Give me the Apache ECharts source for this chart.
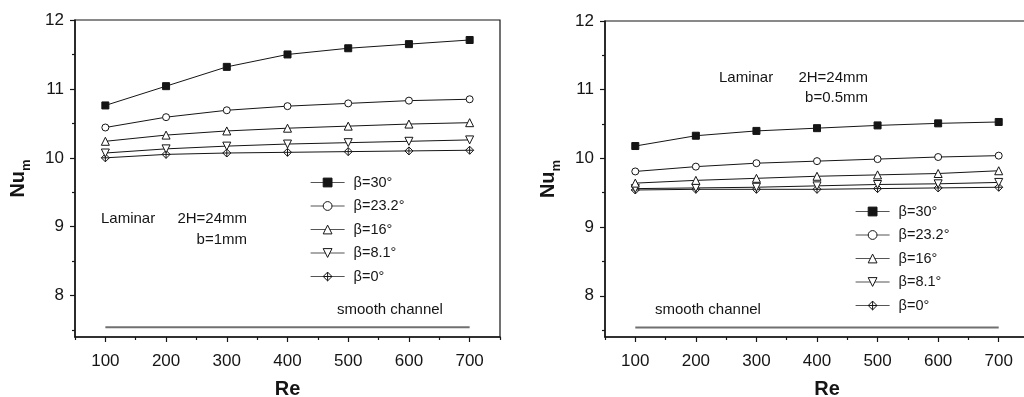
<!DOCTYPE html>
<html>
<head>
<meta charset="utf-8">
<script src="https://cdn.jsdelivr.net/npm/echarts@6/dist/echarts.min.js"></script>
<style>
  html, body { margin: 0; padding: 0; background: #fff; }
  #chart { width: 1024px; height: 397px; }
</style>
</head>
<body>
<div id="chart"></div>
<script>
// Reynolds numbers (x) shared by every series
const reValues = [100, 200, 300, 400, 500, 600, 700];
const betaNames = ["β=30°", "β=23.2°", "β=16°", "β=8.1°", "β=0°"];

// Left panel: b = 1 mm
const leftB30 = [10.76, 11.04, 11.32, 11.50, 11.59, 11.65, 11.71];
const leftB232 = [10.44, 10.59, 10.69, 10.75, 10.79, 10.83, 10.85];
const leftB16 = [10.24, 10.33, 10.39, 10.43, 10.46, 10.49, 10.51];
const leftB81 = [10.07, 10.13, 10.17, 10.20, 10.22, 10.24, 10.26];
const leftB0 = [10.00, 10.05, 10.07, 10.08, 10.09, 10.10, 10.11];

// Right panel: b = 0.5 mm
const rightB30 = [10.18, 10.33, 10.40, 10.44, 10.48, 10.51, 10.53];
const rightB232 = [9.81, 9.88, 9.93, 9.96, 9.99, 10.02, 10.04];
const rightB16 = [9.64, 9.68, 9.71, 9.74, 9.76, 9.78, 9.82];
const rightB81 = [9.56, 9.57, 9.58, 9.60, 9.62, 9.63, 9.65];
const rightB0 = [9.54, 9.55, 9.55, 9.55, 9.56, 9.57, 9.58];

// Smooth channel reference line
const smoothRe = [100, 700];
const smoothNu = [7.54, 7.54];

// Tick values
const xMajor = [100, 200, 300, 400, 500, 600, 700];
const xMinor = [50, 150, 250, 350, 450, 550, 650, 750];
const yMajor = [8, 9, 10, 11, 12];
const yMinor = [7.5, 8.5, 9.5, 10.5, 11.5];

const FONT = "'Liberation Sans', Arial, sans-serif";
const INK = "#151515";

const symbols = [
  { symbol: "rect", fill: INK, rotate: 0, size: 7 },
  { symbol: "circle", fill: "#fff", rotate: 0, size: 7 },
  { symbol: "triangle", fill: "#fff", rotate: 0, size: 8 },
  { symbol: "triangle", fill: "#fff", rotate: 180, size: 8 },
  { symbol: "path://M5,0L10,5L5,10L0,5Z M5,0L5,10 M0,5L10,5", fill: "#fff", rotate: 0, size: 8 },
];

const pairs = (xs, ys) => xs.map((x, i) => [x, ys[i]]);

const xMainAxis = (gridIndex, nameShift) => ({
  type: "value",
  gridIndex,
  position: "bottom",
  min: 50,
  max: 750,
  axisLine: { show: true, onZero: false, lineStyle: { color: INK, width: 1.5 } },
  axisTick: { show: true, customValues: xMajor, length: 5, lineStyle: { color: INK, width: 1.2 } },
  axisLabel: { customValues: xMajor, fontSize: 17, color: INK, margin: 16, fontFamily: FONT },
  splitLine: { show: false },
  name: "Re",
  nameLocation: "middle",
  nameGap: 42,
  nameTextStyle: {
    fontSize: 20,
    fontWeight: "bold",
    color: INK,
    fontFamily: FONT,
    padding: [0, 0, 0, nameShift],
  },
});

const xMinorAxis = (gridIndex) => ({
  type: "value",
  gridIndex,
  position: "bottom",
  min: 50,
  max: 750,
  axisLine: { show: false },
  axisTick: { show: true, customValues: xMinor, length: 3, lineStyle: { color: INK, width: 1.2 } },
  axisLabel: { show: false },
  splitLine: { show: false },
});

const yMainAxis = (gridIndex) => ({
  type: "value",
  gridIndex,
  position: "left",
  min: 7.4,
  max: 12,
  axisLine: { show: true, onZero: false, lineStyle: { color: INK, width: 1.5 } },
  axisTick: { show: true, customValues: yMajor, length: 5, lineStyle: { color: INK, width: 1.2 } },
  axisLabel: { customValues: yMajor, fontSize: 17, color: INK, margin: 11, fontFamily: FONT },
  splitLine: { show: false },
  name: "{a|Nu}{b|m}",
  nameLocation: "middle",
  nameGap: 42,
  nameTextStyle: {
    color: INK,
    rich: {
      a: { fontSize: 20, fontWeight: "bold", fontFamily: FONT, verticalAlign: "bottom", padding: [0, 0, 5, 0] },
      b: { fontSize: 13, fontWeight: "bold", fontFamily: FONT, verticalAlign: "bottom" },
    },
  },
});

const yMinorAxis = (gridIndex) => ({
  type: "value",
  gridIndex,
  position: "left",
  min: 7.4,
  max: 12,
  axisLine: { show: false },
  axisTick: { show: true, customValues: yMinor, length: 3, lineStyle: { color: INK, width: 1.2 } },
  axisLabel: { show: false },
  splitLine: { show: false },
});

const panelSeries = (axisIndex, rows) =>
  rows.map((row, i) => ({
    type: "line",
    name: betaNames[i],
    xAxisIndex: axisIndex,
    yAxisIndex: axisIndex,
    data: pairs(reValues, row),
    symbol: symbols[i].symbol,
    symbolSize: symbols[i].size,
    symbolRotate: symbols[i].rotate,
    symbolKeepAspect: true,
    lineStyle: { color: INK, width: 1 },
    itemStyle: { color: symbols[i].fill, borderColor: INK, borderWidth: 1 },
    z: 10 - i,
  }));

const smoothSeries = (axisIndex) => ({
  type: "line",
  name: "smooth channel",
  xAxisIndex: axisIndex,
  yAxisIndex: axisIndex,
  data: pairs(smoothRe, smoothNu),
  symbol: "none",
  lineStyle: { color: "#707070", width: 2 },
  silent: true,
});

const legendBox = (left, top) => ({
  data: betaNames,
  orient: "vertical",
  left,
  top,
  padding: 0,
  itemWidth: 34,
  itemHeight: 11,
  itemGap: 8.5,
  selectedMode: false,
  lineStyle: { color: "#555", width: 1.2 },
  itemStyle: { borderWidth: 1 },
  textStyle: { fontSize: 14.5, color: INK, fontFamily: FONT, padding: [0, 0, 0, 4] },
});

const label = (x, y, text, align) => ({
  type: "text",
  x,
  y,
  style: { text, align, verticalAlign: "middle", fontSize: 15, fontFamily: FONT, fill: INK },
});

const chart = echarts.init(document.getElementById("chart"));

const option = {
  animation: false,
  backgroundColor: "#fff",
  grid: [
    {
      left: 75, top: 20, width: 425, height: 317,
      outerBoundsMode: "none", containLabel: false,
      show: true, borderColor: INK, borderWidth: 1.2,
    },
    {
      left: 605, top: 21, width: 424, height: 316,
      outerBoundsMode: "none", containLabel: false,
      show: true, borderColor: INK, borderWidth: 1.2,
    },
  ],
  xAxis: [xMainAxis(0, 0), xMinorAxis(0), xMainAxis(1, 20), xMinorAxis(1)],
  yAxis: [yMainAxis(0), yMinorAxis(0), yMainAxis(1), yMinorAxis(1)],
  legend: [legendBox(310, 175), legendBox(855, 204)],
  graphic: [
    label(101, 219, "Laminar", "left"),
    label(247, 219, "2H=24mm", "right"),
    label(247, 240, "b=1mm", "right"),
    label(337, 310, "smooth channel", "left"),
    label(719, 78, "Laminar", "left"),
    label(868, 78, "2H=24mm", "right"),
    label(868, 98, "b=0.5mm", "right"),
    label(655, 310, "smooth channel", "left"),
  ],
  series: [
    ...panelSeries(0, [leftB30, leftB232, leftB16, leftB81, leftB0]),
    smoothSeries(0),
    ...panelSeries(2, [rightB30, rightB232, rightB16, rightB81, rightB0]),
    smoothSeries(2),
  ],
};

chart.setOption(option);
</script>
</body>
</html>
